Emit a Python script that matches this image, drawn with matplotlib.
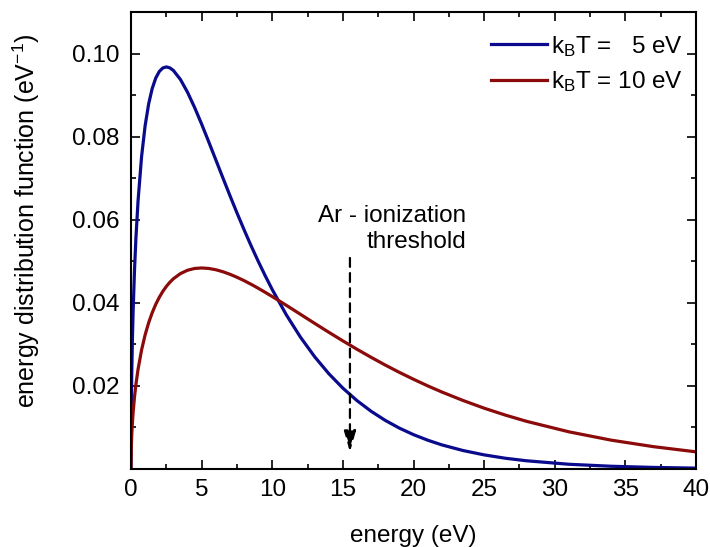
import matplotlib
matplotlib.use("Agg")
import matplotlib.pyplot as plt
from matplotlib.ticker import MultipleLocator, FixedLocator

plt.rcParams['font.family'] = ['Liberation Sans', 'DejaVu Sans']
plt.rcParams['mathtext.fontset'] = 'custom'
plt.rcParams['mathtext.rm'] = 'Liberation Sans'
plt.rcParams['mathtext.default'] = 'regular'

energy = [0, 0.02, 0.05, 0.1, 0.15, 0.25, 0.35, 0.5, 0.75, 1,
          1.25, 1.5, 1.75, 2, 2.25, 2.5, 2.75, 3, 3.5, 4,
          4.5, 5, 5.5, 6, 6.5, 7, 7.5, 8, 8.5, 9,
          9.5, 10, 11, 12, 13, 14, 15, 16, 17, 18,
          19, 20, 21, 22, 23.5, 25, 26.5, 28, 31, 34,
          37, 40]
f_5eV = [0, 0.01422, 0.02234, 0.03129, 0.03794, 0.04800, 0.05567, 0.06457, 0.07523, 0.08263,
         0.08788, 0.09157, 0.09409, 0.09568, 0.09653, 0.09679, 0.09656, 0.09594, 0.09377, 0.09070,
         0.08705, 0.08303, 0.07879, 0.07446, 0.07013, 0.06585, 0.06167, 0.05764, 0.05375, 0.05005,
         0.04653, 0.04319, 0.03709, 0.03172, 0.02703, 0.02296, 0.01946, 0.01646, 0.01389, 0.01170,
         0.00984, 0.00827, 0.00694, 0.00581, 0.00445, 0.00340, 0.00259, 0.00198, 0.00114, 0.00066,
         0.00038, 0.00021]
f_10eV = [0, 0.00504, 0.00794, 0.01117, 0.01361, 0.01740, 0.02038, 0.02400, 0.02867, 0.03229,
          0.03521, 0.03761, 0.03963, 0.04131, 0.04274, 0.04394, 0.04495, 0.04579, 0.04704, 0.04784,
          0.04827, 0.04839, 0.04828, 0.04797, 0.04749, 0.04688, 0.04616, 0.04535, 0.04447, 0.04352,
          0.04253, 0.04151, 0.03939, 0.03723, 0.03506, 0.03292, 0.03084, 0.02882, 0.02688, 0.02502,
          0.02326, 0.02160, 0.02002, 0.01854, 0.01650, 0.01464, 0.01298, 0.01148, 0.00895, 0.00694,
          0.00537, 0.00413]
labels = [r"k$_B$T =   5 eV", r"k$_B$T = 10 eV"]
yticks = [0.02, 0.04, 0.06, 0.08, 0.10]
ytick_labels = ['0.02', '0.04', '0.06', '0.08', '0.10']
threshold = 15.5
arrow_top = 0.0508
arrow_tip = 0.0041

FS = 17.5

fig = plt.figure(figsize=(7.10, 5.47), dpi=100)
ax = fig.add_axes([0.1845, 0.1426, 0.7958, 0.8354])

ax.plot(energy, f_5eV, color='#0a0a8c', lw=2.3, label=labels[0], solid_joinstyle='round')
ax.plot(energy, f_10eV, color='#8b0a0a', lw=2.3, label=labels[1], solid_joinstyle='round')

ax.set_xlim(0, 40)
ax.set_ylim(0, 0.11)
ax.xaxis.set_major_locator(MultipleLocator(5))
ax.xaxis.set_minor_locator(MultipleLocator(2.5))
ax.yaxis.set_major_locator(FixedLocator(yticks))
ax.yaxis.set_minor_locator(FixedLocator([0.01, 0.03, 0.05, 0.07, 0.09]))
ax.set_yticklabels(ytick_labels)
ax.tick_params(which='both', direction='in', top=True, right=True,
               labelsize=FS, width=1.2)
ax.tick_params(which='major', length=6.5)
ax.tick_params(which='minor', length=3.5)
ax.tick_params(axis='x', which='major', pad=7)
ax.tick_params(axis='y', which='major', pad=8.5)
for s in ax.spines.values():
    s.set_linewidth(1.5)

ax.set_xlabel('energy (eV)', fontsize=FS)
ax.xaxis.set_label_coords(0.5, -0.122)
ax.set_ylabel(r'energy distribution function (eV$^{-1}$)', fontsize=FS + 0.5)
ax.yaxis.set_label_coords(-0.158, 0.543)

ax.annotate('', xy=(threshold, arrow_tip), xytext=(threshold, arrow_top),
            arrowprops=dict(arrowstyle='-|>,head_length=0.7,head_width=0.2',
                            linestyle=(0, (4, 2.8)), color='black',
                            lw=1.6, mutation_scale=18, shrinkA=0, shrinkB=0))
ax.text(23.72, 0.0595, 'Ar - ionization', fontsize=FS, ha='right', va='baseline')
ax.text(23.72, 0.0533, 'threshold', fontsize=FS, ha='right', va='baseline')

leg = ax.legend(loc='upper right', bbox_to_anchor=(1.008, 0.99), fontsize=FS,
                frameon=False, handlelength=2.3, handletextpad=0.2,
                labelspacing=0.45, borderaxespad=0.3, borderpad=0.4)

fig.savefig('out.png', dpi=100)
